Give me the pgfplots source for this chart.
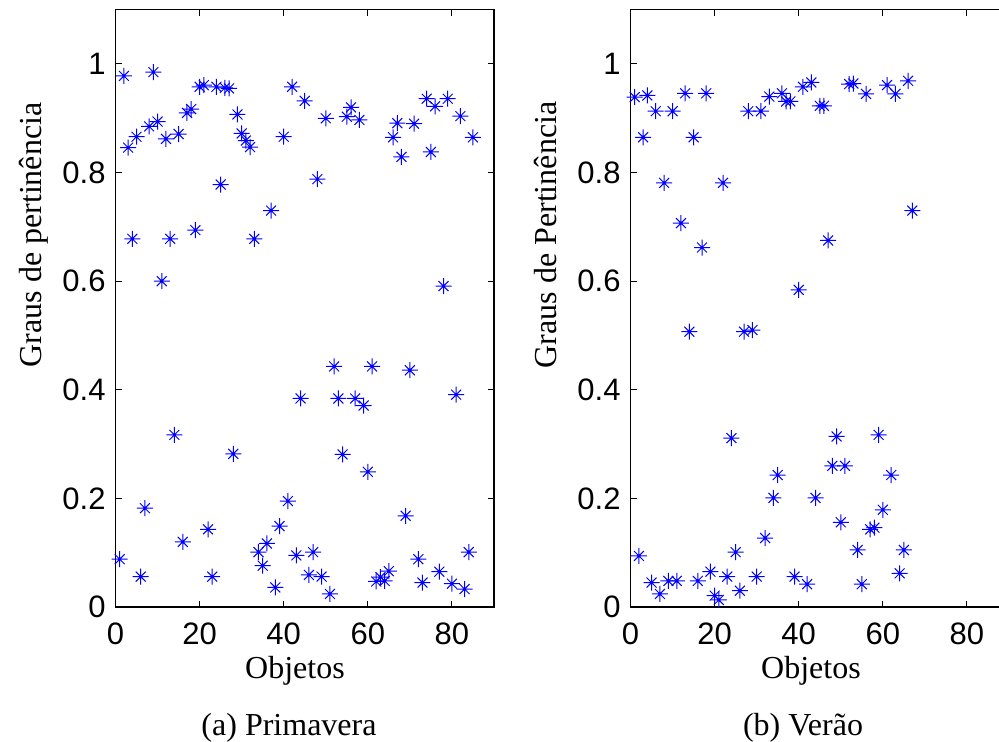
\documentclass[border=0pt]{standalone}
\usepackage{fontspec}
\setmainfont{Liberation Serif}
\newfontfamily\arial{Liberation Sans}
\usepackage{pgfplots}
\pgfplotsset{compat=1.18}

\pgfdeclareplotmark{mstar}{%
  \pgfpathmoveto{\pgfqpoint{-\pgfplotmarksize}{0pt}}%
  \pgfpathlineto{\pgfqpoint{\pgfplotmarksize}{0pt}}%
  \pgfpathmoveto{\pgfqpoint{0pt}{-\pgfplotmarksize}}%
  \pgfpathlineto{\pgfqpoint{0pt}{\pgfplotmarksize}}%
  \pgfpathmoveto{\pgfqpoint{-0.62\pgfplotmarksize}{-0.62\pgfplotmarksize}}%
  \pgfpathlineto{\pgfqpoint{0.62\pgfplotmarksize}{0.62\pgfplotmarksize}}%
  \pgfpathmoveto{\pgfqpoint{-0.62\pgfplotmarksize}{0.62\pgfplotmarksize}}%
  \pgfpathlineto{\pgfqpoint{0.62\pgfplotmarksize}{-0.62\pgfplotmarksize}}%
  \pgfusepathqstroke}

\pgfplotsset{
  mstyle/.style={
    scale only axis, width=189.25pt, height=298.65pt,
    anchor=south west,
    xmin=0, xmax=90, ymin=0, ymax=1.1,
    xtick={0,20,40,60,80},
    ytick={0,0.2,0.4,0.6,0.8,1},
    yticklabels={0,0.2,0.4,0.6,0.8,1},
    xticklabels={0,20,40,60,80},
    tick align=inside,
    major tick length=3pt,
    tick style={black, line width=0.5pt},
    axis line style={black, line width=0.7pt},
    /pgf/number format/assume math mode=true,
    ticklabel style={font=\arial\fontsize{15.5}{18}\selectfont},
    yticklabel style={inner sep=0pt, xshift=-4.8pt},
    xticklabel style={inner sep=0pt, yshift=-7.5pt},
    clip=false,
  },
  pts/.style={only marks, mark=mstar, mark size=4pt, color=blue, line width=0.5pt},
}

\begin{document}
\begin{tikzpicture}
\useasboundingbox (0,0) rectangle (499.5pt,371pt);

\begin{axis}[mstyle, at={(57.75pt,67.5pt)}]
\addplot[pts] coordinates {
(1,0.088) (2,0.978) (3,0.846) (4,0.678) (5,0.866) (6,0.056) (7,0.182) (8,0.885) (9,0.985) (10,0.894)
(11,0.600) (12,0.862) (13,0.678) (14,0.317) (15,0.871) (16,0.120) (17,0.910) (18,0.917) (19,0.694) (20,0.958)
(21,0.961) (22,0.143) (23,0.056) (24,0.958) (25,0.778) (26,0.956) (27,0.955) (28,0.282) (29,0.907) (30,0.872)
(31,0.859) (32,0.847) (33,0.678) (34,0.101) (35,0.076) (36,0.117) (37,0.730) (38,0.036) (39,0.149) (40,0.866)
(41,0.195) (42,0.958) (43,0.095) (44,0.384) (45,0.932) (46,0.059) (47,0.101) (48,0.788) (49,0.056) (50,0.900)
(51,0.024) (52,0.443) (53,0.384) (54,0.281) (55,0.903) (56,0.920) (57,0.384) (58,0.897) (59,0.371) (60,0.249)
(61,0.443) (62,0.047) (63,0.055) (64,0.048) (65,0.066) (66,0.865) (67,0.891) (68,0.829) (69,0.168) (70,0.436)
(71,0.890) (72,0.088) (73,0.045) (74,0.936) (75,0.838) (76,0.922) (77,0.065) (78,0.591) (79,0.936) (80,0.043)
(81,0.391) (82,0.904) (83,0.033) (84,0.101) (85,0.865)
};
\end{axis}

\begin{axis}[mstyle, at={(315.25pt,67.5pt)}]
\addplot[pts] coordinates {
(1,0.939) (2,0.094) (3,0.865) (4,0.942) (5,0.045) (6,0.913) (7,0.024) (8,0.781) (9,0.048) (10,0.913)
(11,0.048) (12,0.707) (13,0.946) (14,0.507) (15,0.865) (16,0.048) (17,0.662) (18,0.946) (19,0.065) (20,0.021)
(21,0.013) (22,0.781) (23,0.056) (24,0.311) (25,0.101) (26,0.030) (27,0.507) (28,0.913) (29,0.510) (30,0.056)
(31,0.913) (32,0.127) (33,0.940) (34,0.201) (35,0.243) (36,0.946) (37,0.931) (38,0.931) (39,0.056) (40,0.584)
(41,0.958) (42,0.042) (43,0.966) (44,0.201) (45,0.923) (46,0.923) (47,0.675) (48,0.260) (49,0.314) (50,0.156)
(51,0.260) (52,0.963) (53,0.964) (54,0.105) (55,0.042) (56,0.945) (57,0.143) (58,0.146) (59,0.317) (60,0.179)
(61,0.961) (62,0.243) (63,0.945) (64,0.062) (65,0.105) (66,0.969) (67,0.730)
};
\end{axis}

\node[anchor=base, inner sep=0pt, font=\fontsize{16}{19}\selectfont] at (147.5pt,31.85pt) {Objetos};
\node[anchor=base, inner sep=0pt, font=\fontsize{16}{19}\selectfont] at (405.5pt,31.85pt) {Objetos};
\node[anchor=base, inner sep=0pt, font=\fontsize{16}{19}\selectfont] at (144.5pt,3pt) {(a) Primavera};
\node[anchor=base, inner sep=0pt, font=\fontsize{16}{19}\selectfont] at (401.5pt,3pt) {(b) Verão};
\node[anchor=base, inner sep=0pt, rotate=90, font=\fontsize{16}{19}\selectfont] at (20.85pt,253.5pt) {Graus de pertinência};
\node[anchor=base, inner sep=0pt, rotate=90, font=\fontsize{16}{19}\selectfont] at (278.35pt,253.5pt) {Graus de Pertinência};
\end{tikzpicture}
\end{document}
